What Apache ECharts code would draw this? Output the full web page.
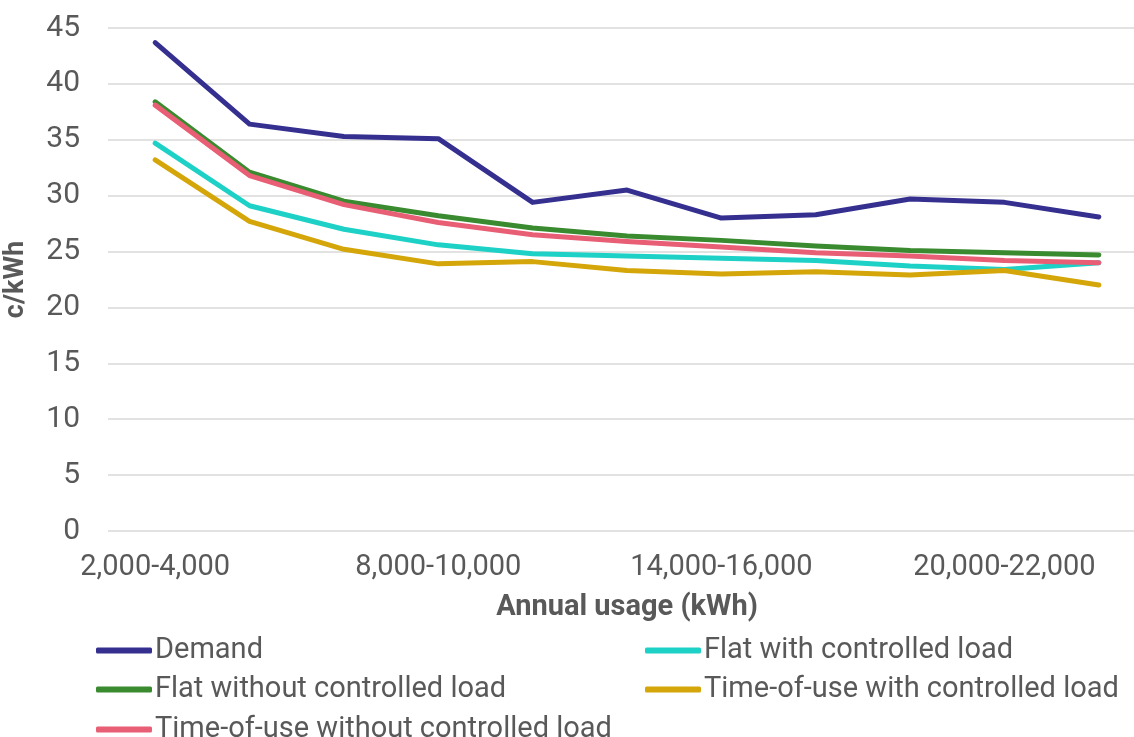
<!DOCTYPE html>
<html>
<head>
<meta charset="utf-8">
<script src="https://cdn.jsdelivr.net/npm/echarts@6/dist/echarts.min.js"></script>
<style>
  html, body { margin: 0; padding: 0; background: #ffffff; }
  #chart { width: 1134px; height: 737px; }
</style>
</head>
<body>
<div id="chart"></div>
<script>
// Annual usage bands (kWh)
const categories = [
  '2,000-4,000', '4,000-6,000', '6,000-8,000', '8,000-10,000',
  '10,000-12,000', '12,000-14,000', '14,000-16,000', '16,000-18,000',
  '18,000-20,000', '20,000-22,000', '22,000-24,000'
];

// Effective price per band, c/kWh
const demand              = [43.7, 36.4, 35.3, 35.1, 29.4, 30.5, 28.0, 28.3, 29.7, 29.4, 28.1];
const flatWithCL          = [34.7, 29.1, 27.0, 25.6, 24.8, 24.6, 24.4, 24.2, 23.7, 23.4, 24.0];
const flatWithoutCL       = [38.4, 32.1, 29.5, 28.2, 27.1, 26.4, 26.0, 25.5, 25.1, 24.9, 24.7];
const touWithCL           = [33.2, 27.7, 25.2, 23.9, 24.1, 23.3, 23.0, 23.2, 22.9, 23.3, 22.0];
const touWithoutCL        = [38.1, 31.8, 29.2, 27.6, 26.5, 25.9, 25.4, 24.9, 24.6, 24.2, 24.0];

const yTicks = { min: 0, max: 45, interval: 5 };

const textColor = '#595959';
const fontFamily = 'Roboto, "Noto Sans", sans-serif';

const seriesDefs = [
  { name: 'Demand', data: demand, color: '#35308f' },
  { name: 'Flat with controlled load', data: flatWithCL, color: '#1dd1c6' },
  { name: 'Flat without controlled load', data: flatWithoutCL, color: '#3a8a30' },
  { name: 'Time-of-use with controlled load', data: touWithCL, color: '#d4a60a' },
  { name: 'Time-of-use without controlled load', data: touWithoutCL, color: '#e85e75' }
];

// Legend slots: [series name, left, top]
const legendSlots = [
  ['Demand', 96, 636],
  ['Flat with controlled load', 645, 636],
  ['Flat without controlled load', 96, 675],
  ['Time-of-use with controlled load', 645, 675],
  ['Time-of-use without controlled load', 96, 715]
];

const chart = echarts.init(document.getElementById('chart'));

chart.setOption({
  animation: false,
  backgroundColor: '#ffffff',
  textStyle: { fontFamily: fontFamily },
  grid: { left: 108, right: -12, top: 28, bottom: 206, containLabel: false, outerBoundsMode: 'none' },
  legend: legendSlots.map(([name, left, top]) => ({
    orient: 'horizontal',
    left: left,
    top: top,
    padding: 0,
    itemWidth: 56,
    itemHeight: 6,
    itemGap: 0,
    icon: 'roundRect',
    data: [name],
    textStyle: { color: textColor, fontSize: 29, lineHeight: 24, fontFamily: fontFamily, padding: [0, 0, 0, -2] }
  })),
  xAxis: {
    type: 'category',
    data: categories,
    boundaryGap: true,
    name: 'Annual usage (kWh)',
    nameLocation: 'middle',
    nameGap: 62,
    nameTextStyle: { color: textColor, fontSize: 29, fontWeight: 'bold', fontFamily: fontFamily },
    axisLine: { show: false },
    axisTick: { show: false },
    axisLabel: { interval: 2, color: textColor, fontSize: 29, margin: 22, fontFamily: fontFamily }
  },
  yAxis: {
    type: 'value',
    min: yTicks.min,
    max: yTicks.max,
    interval: yTicks.interval,
    name: 'c/kWh',
    nameLocation: 'middle',
    nameGap: 78,
    nameTextStyle: { color: textColor, fontSize: 27, fontWeight: 'bold', fontFamily: fontFamily },
    axisLine: { show: false },
    axisTick: { show: false },
    axisLabel: { color: textColor, fontSize: 30, margin: 28, fontFamily: fontFamily },
    splitLine: { lineStyle: { color: '#d9d9d9', width: 1.5 } }
  },
  series: seriesDefs.map(s => ({
    name: s.name,
    type: 'line',
    data: s.data,
    symbol: 'none',
    lineStyle: { color: s.color, width: 5, cap: 'round', join: 'round' },
    itemStyle: { color: s.color }
  }))
});
</script>
</body>
</html>
